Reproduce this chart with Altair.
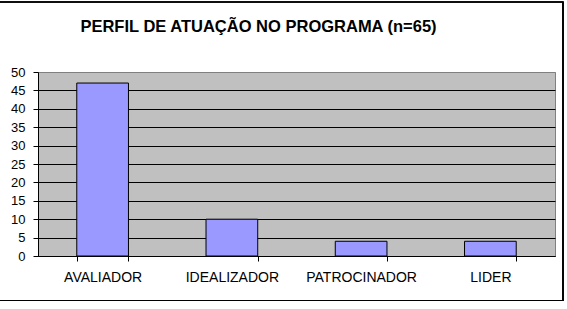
import altair as alt
import pandas as pd

categories = ["AVALIADOR", "IDEALIZADOR", "PATROCINADOR", "LIDER"]
values = [47, 10, 4, 4]
title_text = "PERFIL DE ATUAÇÃO NO PROGRAMA (n=65)"

df = pd.DataFrame({"cat": categories, "val": values})

W, H = 517, 184
FONT = "Liberation Sans"

bars = alt.Chart(df).mark_bar(
    color="#9999FF", stroke="#000000", strokeWidth=1
).encode(
    x=alt.X("cat:N", sort=categories,
            scale=alt.Scale(paddingInner=0.6, paddingOuter=0.3),
            axis=alt.Axis(title=None, labelAngle=0, labelFont=FONT, labelFontSize=14,
                          labelColor="#000000", domainColor="#000000", tickColor="#000000",
                          tickBand="extent", tickSize=5, labelPadding=9, grid=False)),
    y=alt.Y("val:Q", scale=alt.Scale(domain=[0, 50], nice=False),
            axis=alt.Axis(title=None, values=list(range(0, 51, 5)), labelFont=FONT,
                          labelFontSize=13, labelColor="#000000", domainColor="#000000",
                          tickColor="#000000", tickSize=5, labelPadding=8,
                          grid=True,
                          gridColor=alt.condition("datum.value == 50",
                                                  alt.value("#808080"),
                                                  alt.value("#000000")),
                          gridWidth=1.2)),
)

border = alt.Chart(df).mark_rect(
    fillOpacity=0, stroke="#000000", strokeWidth=1.2, clip=False
).encode(
    x=alt.value(-40), x2=alt.value(W + 8), y=alt.value(-70), y2=alt.value(H + 44.5)
)

chart = alt.layer(bars, border).properties(
    width=W, height=H,
    background="#FFFFFF",
    title=alt.TitleParams(title_text, font=FONT, fontSize=16.5, fontWeight="bold",
                          color="#000000", anchor="middle", offset=-34, dx=-38),
    autosize=alt.AutoSizeParams(type="none"),
    padding={"left": 38, "top": 72, "right": 12, "bottom": 53},
).configure_view(
    fill="#C0C0C0", stroke="#808080", strokeWidth=1
)

chart.save("out.html", embed_options={"renderer": "svg", "actions": False})
